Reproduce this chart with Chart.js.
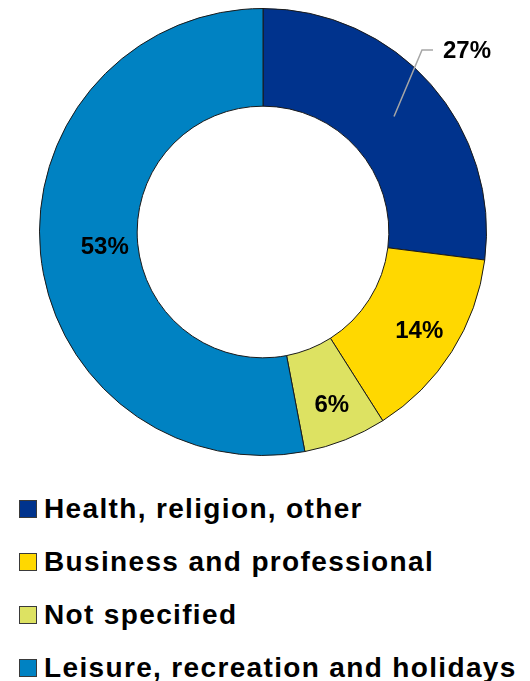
<!DOCTYPE html>
<html>
<head>
<meta charset="utf-8">
<title>Purpose of trip</title>
<script src="https://cdn.jsdelivr.net/npm/chart.js@4/dist/chart.umd.min.js"></script>
<style>
  html, body { margin: 0; padding: 0; background: #fff; }
  #wrap { position: relative; width: 530px; height: 681px; overflow: hidden; }
  #chart-box { position: absolute; left: 0; top: 0; width: 530px; height: 470px; }
  #legend {
    position: absolute; left: 19px; top: 482px;
    font: bold 28px "Liberation Sans", Arial, sans-serif; color: #000;
    letter-spacing: 1.35px;
  }
  .legend-item { display: flex; align-items: center; height: 53px; line-height: 53px; white-space: nowrap; }
  .legend-box {
    width: 18px; height: 18px; box-sizing: border-box;
    border: 1px solid #3a3a3a; margin-right: 7px; flex: none;
  }
</style>
</head>
<body>
<div id="wrap">
  <div id="chart-box"><canvas id="chart"></canvas></div>
  <div id="legend"></div>
</div>

<script>
// ── Dados ────────────────────────────────────────────────────────────────
const categories = [
  "Health, religion, other",
  "Business and professional",
  "Not specified",
  "Leisure, recreation and holidays",
];
const shares = [27, 14, 6, 53];
const sliceColors = ["#00338d", "#ffd800", "#dde262", "#0082c2"];

// ── Rótulos de percentagem ───────────────────────────────────────────────
const sliceLabels = {
  id: "sliceLabels",
  afterDatasetsDraw(chart, args, opts) {
    const { ctx } = chart;
    const meta = chart.getDatasetMeta(0);
    const total = shares.reduce((a, b) => a + b, 0);

    ctx.save();
    ctx.font = opts.font;
    ctx.fillStyle = "#000";
    ctx.textBaseline = "middle";

    meta.data.forEach((arc, i) => {
      const { x, y, startAngle, endAngle, innerRadius, outerRadius } =
        arc.getProps(["x", "y", "startAngle", "endAngle", "innerRadius", "outerRadius"], true);
      const mid = (startAngle + endAngle) / 2;
      const text = Math.round((shares[i] / total) * 100) + "%";
      const r = opts.radius?.[i];

      if (opts.callout?.index === i) {
        const c = opts.callout;
        const ar = (innerRadius + outerRadius) / 2 + c.anchorShift;
        const ax = x + Math.cos(mid) * ar;
        const ay = y + Math.sin(mid) * ar;
        const ex = x + c.elbow[0];
        const ey = y + c.elbow[1];
        ctx.strokeStyle = c.color;
        ctx.lineWidth = c.width;
        ctx.beginPath();
        ctx.moveTo(ax, ay);
        ctx.lineTo(ex, ey);
        ctx.lineTo(ex + c.tail, ey);
        ctx.stroke();
        ctx.textAlign = "left";
        ctx.fillText(text, ex + c.tail + c.gap, ey + 1);
        return;
      }

      ctx.textAlign = "center";
      ctx.fillText(text, x + Math.cos(mid) * r, y + Math.sin(mid) * r);
    });
    ctx.restore();
  },
};

// ── Gráfico ──────────────────────────────────────────────────────────────
const chart = new Chart(document.getElementById("chart"), {
  type: "doughnut",
  data: {
    labels: categories,
    datasets: [{
      data: shares,
      backgroundColor: sliceColors,
      borderColor: "#1a1a1a",
      borderWidth: 1,
    }],
  },
  options: {
    responsive: true,
    maintainAspectRatio: false,
    animation: false,
    cutout: "56.3%",
    layout: { padding: { top: 8, bottom: 14, left: 0, right: 4 } },
    plugins: {
      legend: { display: false },
      tooltip: { enabled: false },
      sliceLabels: {
        font: 'bold 24px "Liberation Sans", Arial, sans-serif',
        radius: [null, 185, 187, 159],
        callout: { index: 0, anchorShift: 0, elbow: [159, -182], tail: 11, gap: 10, color: "#a6a6a6", width: 1.5 },
      },
    },
  },
  plugins: [sliceLabels],
});

// ── Legenda HTML ─────────────────────────────────────────────────────────
document.getElementById("legend").innerHTML = chart.data.labels.map((label, i) => `
  <div class="legend-item">
    <span class="legend-box" style="background:${chart.data.datasets[0].backgroundColor[i]}"></span>
    <span>${label}</span>
  </div>
`).join("");
</script>
</body>
</html>
